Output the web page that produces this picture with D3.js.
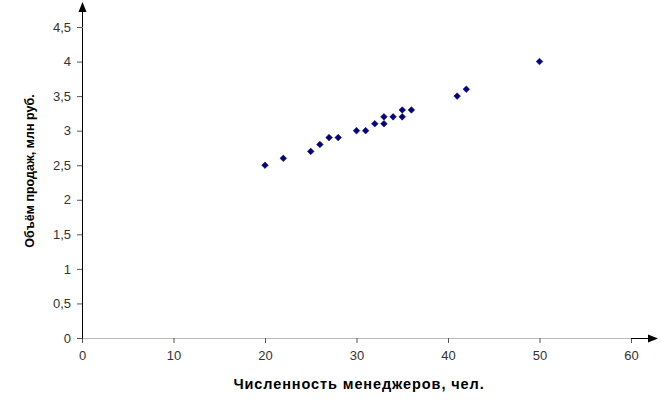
<!DOCTYPE html>
<html><head><meta charset="utf-8">
<script src="https://cdn.jsdelivr.net/npm/d3@7"></script>
<style>body{margin:0;background:#fff}svg{display:block}</style>
</head><body>
<script>
const managers = [20,22,25,26,27,28,30,31,32,33,33,34,35,35,36,41,42,50];
const sales    = [2.5,2.6,2.7,2.8,2.9,2.9,3.0,3.0,3.1,3.1,3.2,3.2,3.2,3.3,3.3,3.5,3.6,4.0];
const xTicks = [0,10,20,30,40,50,60];
const yTicks = [0,0.5,1,1.5,2,2.5,3,3.5,4,4.5];
const xTitle = "Численность менеджеров, чел.";
const yTitle = "Объём продаж, млн руб.";

const W = 662, H = 410;
const svg = d3.select("body").append("svg").attr("width", W).attr("height", H);
const x = d3.scaleLinear().domain([0,60]).range([82,631]);
const y = d3.scaleLinear().domain([0,4.5]).range([338,27]);
const fmt = d => String(d).replace(".", ",");
const font = "'Liberation Sans', Arial, sans-serif";

// x axis
const gx = svg.append("g").attr("transform", `translate(0,${y(0)})`)
  .call(d3.axisBottom(x).tickValues(xTicks).tickSize(5).tickSizeOuter(0).tickPadding(8).tickFormat(fmt));
gx.select(".domain").attr("stroke", "#777").attr("stroke-dasharray", "1,1");
gx.selectAll(".tick line").attr("stroke", "#555");
gx.selectAll("text").attr("font-family", font).attr("font-size", 13).attr("fill", "#333");

// y axis
const gy = svg.append("g").attr("transform", `translate(${x(0)},0)`)
  .call(d3.axisLeft(y).tickValues(yTicks).tickSize(5).tickSizeOuter(0).tickPadding(6).tickFormat(fmt));
gy.select(".domain").attr("stroke", "#000");
gy.selectAll(".tick line").attr("stroke", "#555");
gy.selectAll("text").attr("font-family", font).attr("font-size", 13).attr("fill", "#333");

// arrows
const y0 = y(0) + 0.5, x0 = x(0) + 0.5;
svg.append("line").attr("x1", x(60)).attr("x2", 650).attr("y1", y0).attr("y2", y0).attr("stroke", "#000");
svg.append("path").attr("d", `M658,${y0} L648,${y0-4} L648,${y0+4} Z`).attr("fill", "#000");
svg.append("line").attr("x1", x0).attr("x2", x0).attr("y1", y(4.5)).attr("y2", 10).attr("stroke", "#000");
svg.append("path").attr("d", `M${x0},2 L${x0-4},12 L${x0+4},12 Z`).attr("fill", "#000");

// points (square diamonds)
const r = 3.3;
svg.append("g").selectAll("path").data(managers.map((m,i)=>[m,sales[i]])).join("path")
  .attr("transform", d => `translate(${x(d[0])},${y(d[1])})`)
  .attr("d", `M0,${-r} L${r},0 L0,${r} L${-r},0 Z`)
  .attr("fill", "#000080").attr("stroke", "#101060").attr("stroke-width", 0.6);

// titles
svg.append("text").attr("x", 359).attr("y", 389).attr("text-anchor", "middle")
  .attr("font-family", font).attr("font-weight", "bold").attr("font-size", 14.5)
  .attr("letter-spacing", 0.9).text(xTitle);
svg.append("text").attr("transform", "translate(34,171) rotate(-90)").attr("text-anchor", "middle")
  .attr("font-family", font).attr("font-weight", "bold").attr("font-size", 12.5).text(yTitle);
</script>
</body></html>
